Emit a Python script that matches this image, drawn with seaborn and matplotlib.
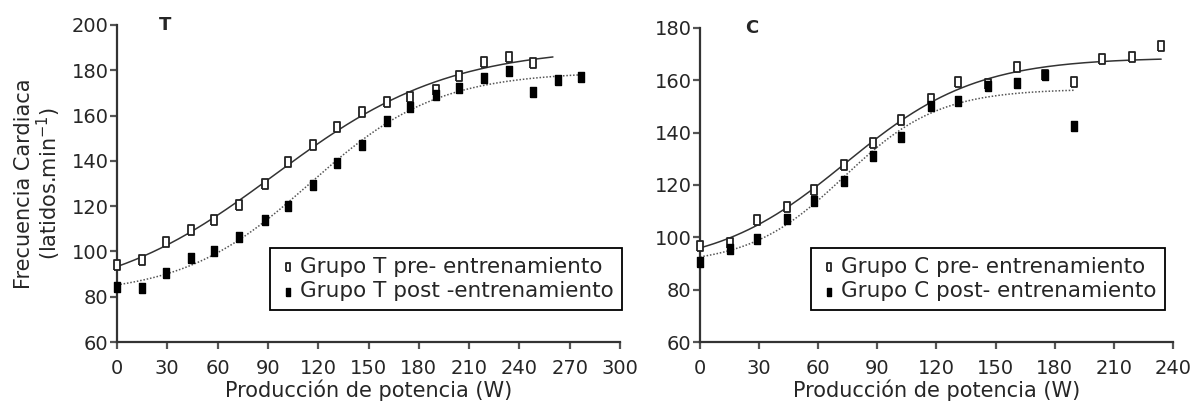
import numpy as np
import pandas as pd
import matplotlib
matplotlib.use("Agg")
import matplotlib.pyplot as plt
import seaborn as sns

# ---------------- data ----------------
power = [0, 15, 29, 44, 58, 73, 88, 102, 117, 131, 146, 161, 175, 190, 204, 219, 234, 248, 263, 277]

t_pre = [94, 96, 104, 109.5, 114, 120.5, 130, 139.5, 147, 155, 161.5, 166, 168, 171.5, 177.5, 183.5, 186, 183]
t_post = [84.5, 84, 90.5, 97, 100, 106.5, 114, 120, 129.5, 139, 147, 157.5, 164, 169, 172, 176.5, 179.5, 170.5, 175.5, 177]

c_pre = [96.5, 98, 106.5, 111.5, 118, 127.5, 136, 145, 153, 159.5, 158.5, 165, 162, 159.5, 168, 169, 173]
c_post = [90.5, 95.5, 99.5, 107, 114, 121.5, 131, 138.5, 150, 152, 158, 159, 162, 142.5]

curve_end_t = [260, 277]
curve_end_c = [234, 190]

t_labels = ["Grupo T pre- entrenamiento", "Grupo T post -entrenamiento"]
c_labels = ["Grupo C pre- entrenamiento", "Grupo C post- entrenamiento"]

x_label = "Producción de potencia (W)"
y_label = "Frecuencia Cardiaca\n(latidos.min$^{-1}$)"

# ---------------- style ----------------
sns.set_theme(style="white")
plt.rcParams["font.family"] = ["DejaVu Sans"]
FS_TICK = 14
FS_LAB = 15
FS_LEG = 15.5

rect = [(-0.6, -1), (0.6, -1), (0.6, 1), (-0.6, 1), (-0.6, -1)]


def logistic_fit(xs, ys):
    """Least-squares 4-parameter logistic fit (grid over centre/scale)."""
    xs = np.asarray(xs, float)
    ys = np.asarray(ys, float)
    best = None
    for c in np.linspace(0, 250, 251):
        for d in np.linspace(10, 120, 111):
            s = 1.0 / (1.0 + np.exp(-(xs - c) / d))
            A = np.column_stack([np.ones_like(s), s])
            coef, *_ = np.linalg.lstsq(A, ys, rcond=None)
            err = np.sum((A @ coef - ys) ** 2)
            if best is None or err < best[0]:
                best = (err, coef[0], coef[1], c, d)
    _, a, b, c, d = best
    return lambda x: a + b / (1.0 + np.exp(-(x - c) / d))


fig = plt.figure(figsize=(11.94, 4.07), dpi=100)
axT = fig.add_axes([117 / 1194, 1 - 342 / 407, 503 / 1194, 317 / 407])
axC = fig.add_axes([700 / 1194, 1 - 342 / 407, 473 / 1194, 314 / 407])


def draw(ax, pre, post, ends, labels, xmax, ymax, panel, panel_x, legend_anchor):
    xs_pre = power[:len(pre)]
    xs_post = power[:len(post)]
    for xs, ys, end, ls, col in [(xs_pre, pre, ends[0], "-", "#333333"),
                                 (xs_post, post, ends[1], (0, (1, 1.2)), "#555555")]:
        f = logistic_fit(xs, ys)
        xx = np.linspace(0, end, 200)
        df = pd.DataFrame({"x": xx, "y": f(xx)})
        sns.lineplot(data=df, x="x", y="y", ax=ax, color=col, lw=1.1,
                     linestyle=ls, legend=False, clip_on=False)
    dpre = pd.DataFrame({"x": xs_pre, "y": pre})
    dpost = pd.DataFrame({"x": xs_post, "y": post})
    sns.scatterplot(data=dpre, x="x", y="y", ax=ax, marker=rect, s=50,
                    facecolor="white", edgecolor="#222222", linewidth=1.3,
                    label=labels[0], clip_on=False, zorder=3)
    sns.scatterplot(data=dpost, x="x", y="y", ax=ax, marker=rect, s=50,
                    facecolor="black", edgecolor="black", linewidth=1.0,
                    label=labels[1], clip_on=False, zorder=4)

    ax.set_xlim(0, xmax)
    ax.set_ylim(60, ymax)
    ax.set_xticks(np.arange(0, xmax + 1, 30))
    ax.set_yticks(np.arange(60, ymax + 1, 20))
    ax.set_xlabel(x_label, fontsize=FS_LAB, labelpad=1)
    ax.set_ylabel("")
    for s in ["top", "right"]:
        ax.spines[s].set_visible(False)
    for s in ["left", "bottom"]:
        ax.spines[s].set_color("#333333")
        ax.spines[s].set_linewidth(1.6)
    ax.tick_params(axis="both", which="major", direction="out", length=5,
                   width=1.6, color="#555555", labelsize=FS_TICK, pad=1,
                   bottom=True, left=True)
    ax.tick_params(axis="x", pad=7)
    ax.text(panel_x, 1.0, panel, transform=ax.transAxes, fontsize=FS_TICK - 1,
            fontweight="bold", ha="center", va="center")
    leg = ax.legend(loc="lower right", bbox_to_anchor=legend_anchor,
                    fontsize=FS_LEG, frameon=True, fancybox=False,
                    edgecolor="black", framealpha=1, borderpad=0.4,
                    handletextpad=0.1, handlelength=0.9, labelspacing=0.2,
                    borderaxespad=0)
    leg.get_frame().set_linewidth(1.3)
    for h in leg.legend_handles:
        h.set_sizes([30])


draw(axT, t_pre, t_post, curve_end_t, t_labels, 300, 200, "T", 0.095, (1.004, 0.101))
draw(axC, c_pre, c_post, curve_end_c, c_labels, 240, 180, "C", 0.11, (0.983, 0.102))
axT.set_ylabel(y_label, fontsize=FS_LAB, labelpad=6, linespacing=1.05)

fig.savefig("out.png", dpi=100, facecolor="white")
